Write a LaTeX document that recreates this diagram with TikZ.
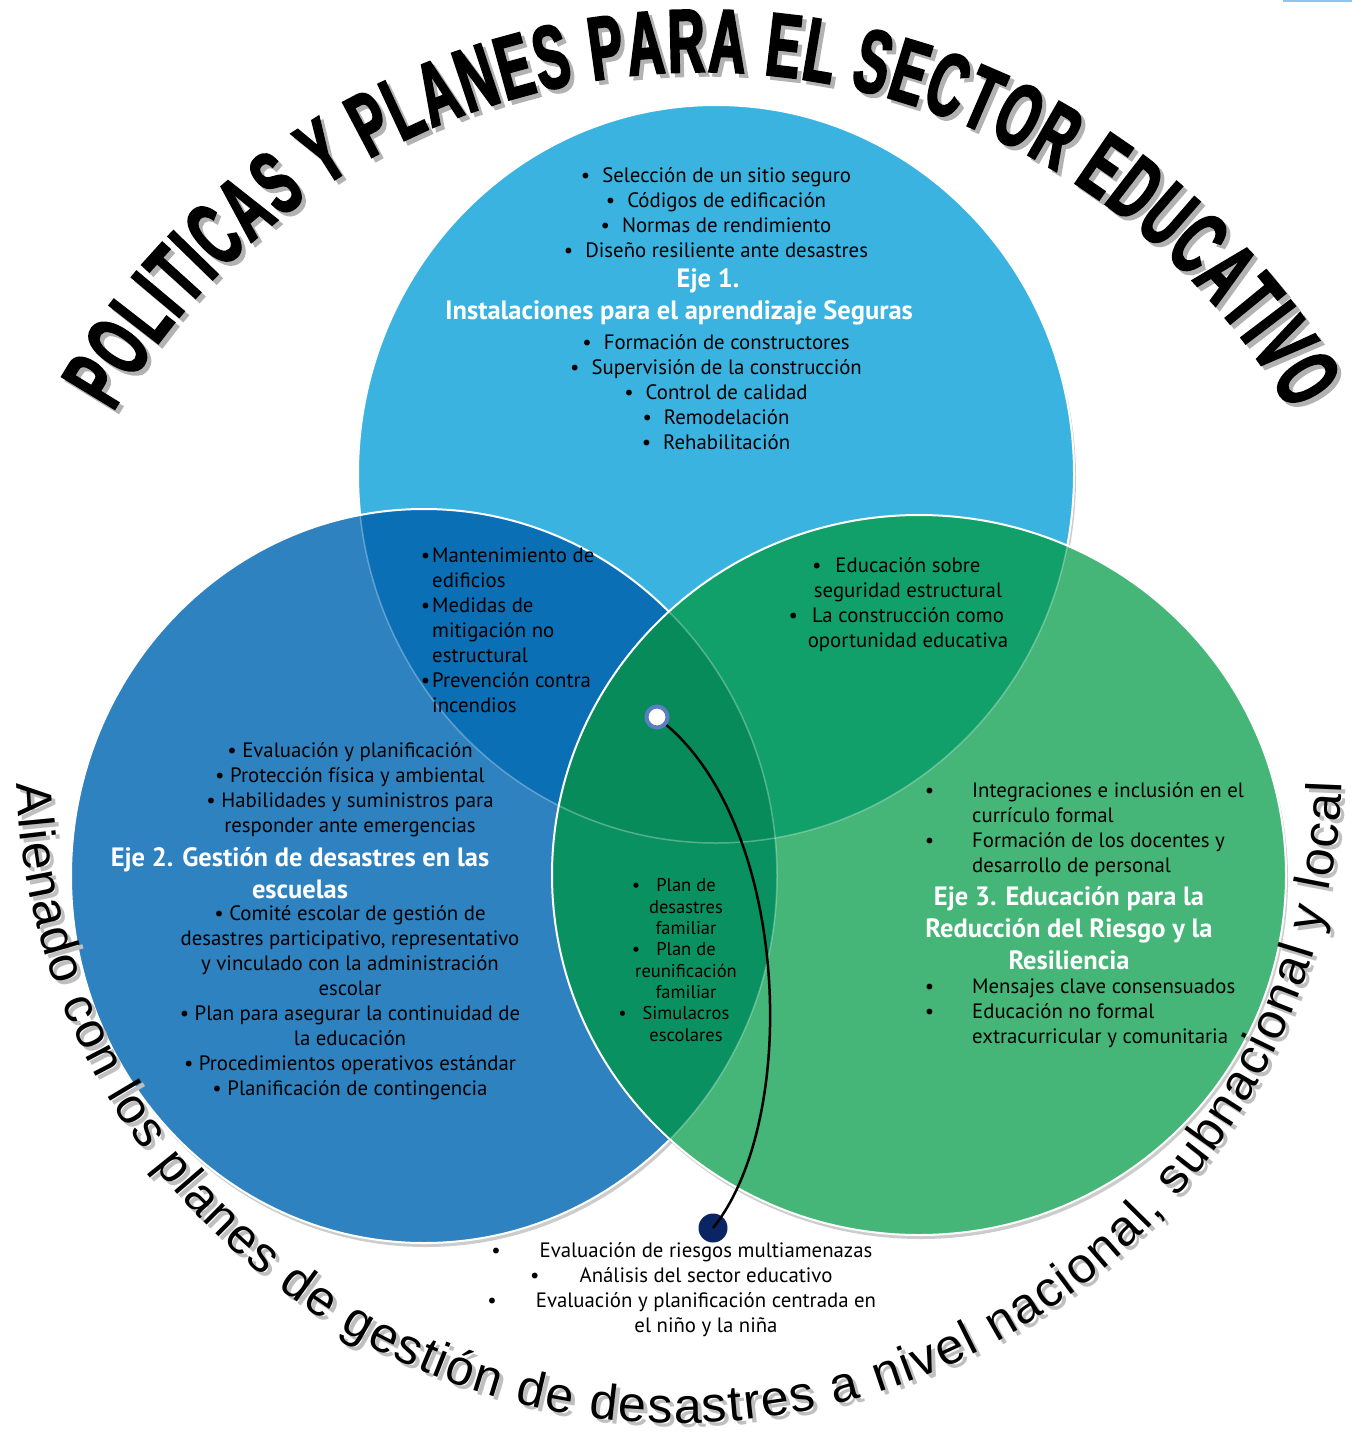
\documentclass[tikz,border=0pt]{standalone}
\usepackage{fontspec}
\setmainfont{PT Sans}
\newfontfamily\titlefont{Liberation Sans}[FakeStretch=0.57,BoldFeatures={FakeBold=2.2}]
\newfontfamily\arcfont{Liberation Sans}
\usetikzlibrary{decorations.text,shadows}

\definecolor{ejeuno}{HTML}{3BB3E0}
\definecolor{ejedos}{HTML}{2E82C0}
\definecolor{ejetres}{HTML}{45B677}
\definecolor{unodos}{HTML}{0B6FB5}
\definecolor{unotres}{HTML}{12A06A}
\definecolor{dostres}{HTML}{0A9161}
\definecolor{todos}{HTML}{078B5B}
\definecolor{anillo}{HTML}{5B7EC2}
\definecolor{marino}{HTML}{0B2463}
\definecolor{azulclaro}{HTML}{8EC4F0}

% the three axes
\newcommand{\circuno}{(716,-474) ellipse [x radius=358, y radius=369]}
\newcommand{\circdos}{(424,-876) ellipse [x radius=353, y radius=367]}
\newcommand{\circtres}{(919,-875) ellipse [x radius=367, y radius=360]}
% the two curved texts
\newcommand{\arcotitulo}{(702,-752) ++(150:680) arc[start angle=150, end angle=30, radius=680]}
\newcommand{\arcobase}{(679,-760) ++(182:663) arc[start angle=182, end angle=358, radius=663]}

\begin{document}
\begin{tikzpicture}[x=1pt, y=1pt,
  borde/.style={draw=white, line width=2},
  tenue/.style={draw=white, draw opacity=.3, line width=1.5},
  sombra/.style={drop shadow={shadow xshift=2, shadow yshift=-4, opacity=.2, fill=black}},
  texto/.style={text=black, inner sep=0, align=center, font=\fontsize{20.8}{25}\selectfont},
  titulo/.style={text=white, inner sep=0, align=center, font=\bfseries\fontsize{26.5}{32}\selectfont},
  chico/.style={text=black, inner sep=0, align=center, font=\fontsize{18.5}{21.3}\selectfont},
  arriba/.style={decorate, decoration={text along path, text align=fit to path, text color=#1,
    text={|\titlefont\bfseries\fontsize{90}{90}\selectfont|POLITICAS Y PLANES PARA EL SECTOR EDUCATIVO}}},
  abajo/.style={decorate, decoration={text along path, text align=fit to path, text color=#1,
    text={|\arcfont\fontsize{50}{50}\selectfont|Alienado con los planes de gestión de desastres a nivel nacional, subnacional y local}}}]

\useasboundingbox (0,0) rectangle (1352,-1437);
\fill[white] (0,0) rectangle (1352,-1437);
\fill[azulclaro] (1283,0) rectangle (1352,-2);

% circles and overlaps
\fill[ejeuno, sombra] \circuno;
\draw[borde] \circuno;
\fill[ejedos, sombra] \circdos;
\begin{scope} \clip \circuno; \fill[unodos] \circdos; \end{scope}
\begin{scope} \clip \circdos; \draw[tenue] \circuno; \end{scope}
\draw[borde] \circdos;
\fill[ejetres, sombra] \circtres;
\begin{scope} \clip \circuno; \fill[unotres] \circtres; \end{scope}
\begin{scope} \clip \circdos; \fill[dostres] \circtres; \end{scope}
\begin{scope} \clip \circuno; \clip \circdos; \fill[todos] \circtres; \end{scope}
\begin{scope} \clip \circtres; \draw[tenue] \circuno; \draw[tenue] \circdos; \end{scope}
\draw[borde] \circtres;

% curved titles, shadow first
\begin{scope}[xshift=4, yshift=-4]
\path[arriba=black!30] \arcotitulo;
\path[abajo=black!25] \arcobase;
\end{scope}
\path[arriba=black] \arcotitulo;
\path[abajo=black] \arcobase;

% Eje 1
\node[texto] (seleccion) at (716,-213) {•\hspace{12pt}Selección de un sitio seguro\\
  •\hspace{12pt}Códigos de edificación\\ •\hspace{12pt}Normas de rendimiento\\
  •\hspace{12pt}Diseño resiliente ante desastres};
\node[titulo] (eje1) at (708,-281) {Eje 1.};
\node[titulo] (instalaciones) at (679,-313) {Instalaciones para el aprendizaje Seguras};
\node[texto] (formacion) at (716,-392) {•\hspace{12pt}Formación de constructores\\
  •\hspace{12pt}Supervisión de la construcción\\ •\hspace{12pt}Control de calidad\\
  •\hspace{12pt}Remodelación\\ •\hspace{12pt}Rehabilitación};

% overlaps
\node[texto, align=left, anchor=west] (mantenimiento) at (432,-630) {\llap{•\hspace{2pt}}Mantenimiento de\\
  edificios\\ \llap{•\hspace{2pt}}Medidas de\\ mitigación no\\ estructural\\
  \llap{•\hspace{2pt}}Prevención contra\\ incendios};
\node[texto] (seguridad) at (908,-605) {\llap{•\hspace{14pt}}Educación sobre\\ seguridad estructural\\
  \llap{•\hspace{14pt}}La construcción como\\ oportunidad educativa};
\node[chico] (familiar) at (686,-960) {\llap{•\hspace{16pt}}Plan de\\ desastres\\ familiar\\
  \llap{•\hspace{16pt}}Plan de\\ reunificación\\ familiar\\ \llap{•\hspace{16pt}}Simulacros\\ escolares};

% Eje 2
\node[texto] (evaluacion) at (350,-790) {• Evaluación y planificación\\ • Protección física y ambiental\\
  • Habilidades y suministros para\\ responder ante emergencias};
\node[titulo] (eje2) at (300,-873) {Eje 2. Gestión de desastres en las\\ escuelas};
\node[texto] (comite) at (350,-1003) {• Comité escolar de gestión de\\ desastres participativo, representativo\\
  y vinculado con la administración\\ escolar\\ • Plan para asegurar la continuidad de\\ la educación\\
  • Procedimientos operativos estándar\\ • Planificación de contingencia};

% Eje 3
\node[texto, align=left, anchor=west] (integraciones) at (972,-830) {\llap{•\hspace{38pt}}Integraciones e inclusión en el\\
  currículo formal\\ \llap{•\hspace{38pt}}Formación de los docentes y\\ desarrollo de personal};
\node[titulo] (eje3) at (1069,-928) {Eje 3. Educación para la\\ Reducción del Riesgo y la\\ Resiliencia};
\node[texto, align=left, anchor=west] (mensajes) at (972,-1013) {\llap{•\hspace{38pt}}Mensajes clave consensuados\\
  \llap{•\hspace{38pt}}Educación no formal\\ extracurricular y comunitaria};

% below the circles
\node[texto] (riesgos) at (706,-1290) {\llap{•\hspace{39pt}}Evaluación de riesgos multiamenazas\\
  \llap{•\hspace{40pt}}Análisis del sector educativo\\
  \llap{•\hspace{39pt}}Evaluación y planificación centrada en\\ el niño y la niña};

% connector
\node[circle, fill=white, draw=anillo, line width=4, minimum size=21, inner sep=0] (punto) at (657,-717) {};
\node[circle, fill=marino, minimum size=29, inner sep=0] (meta) at (713,-1228) {};
\draw[line width=2.5] (punto) .. controls (790,-830) and (800,-1120) .. (meta.center);
\end{tikzpicture}
\end{document}
